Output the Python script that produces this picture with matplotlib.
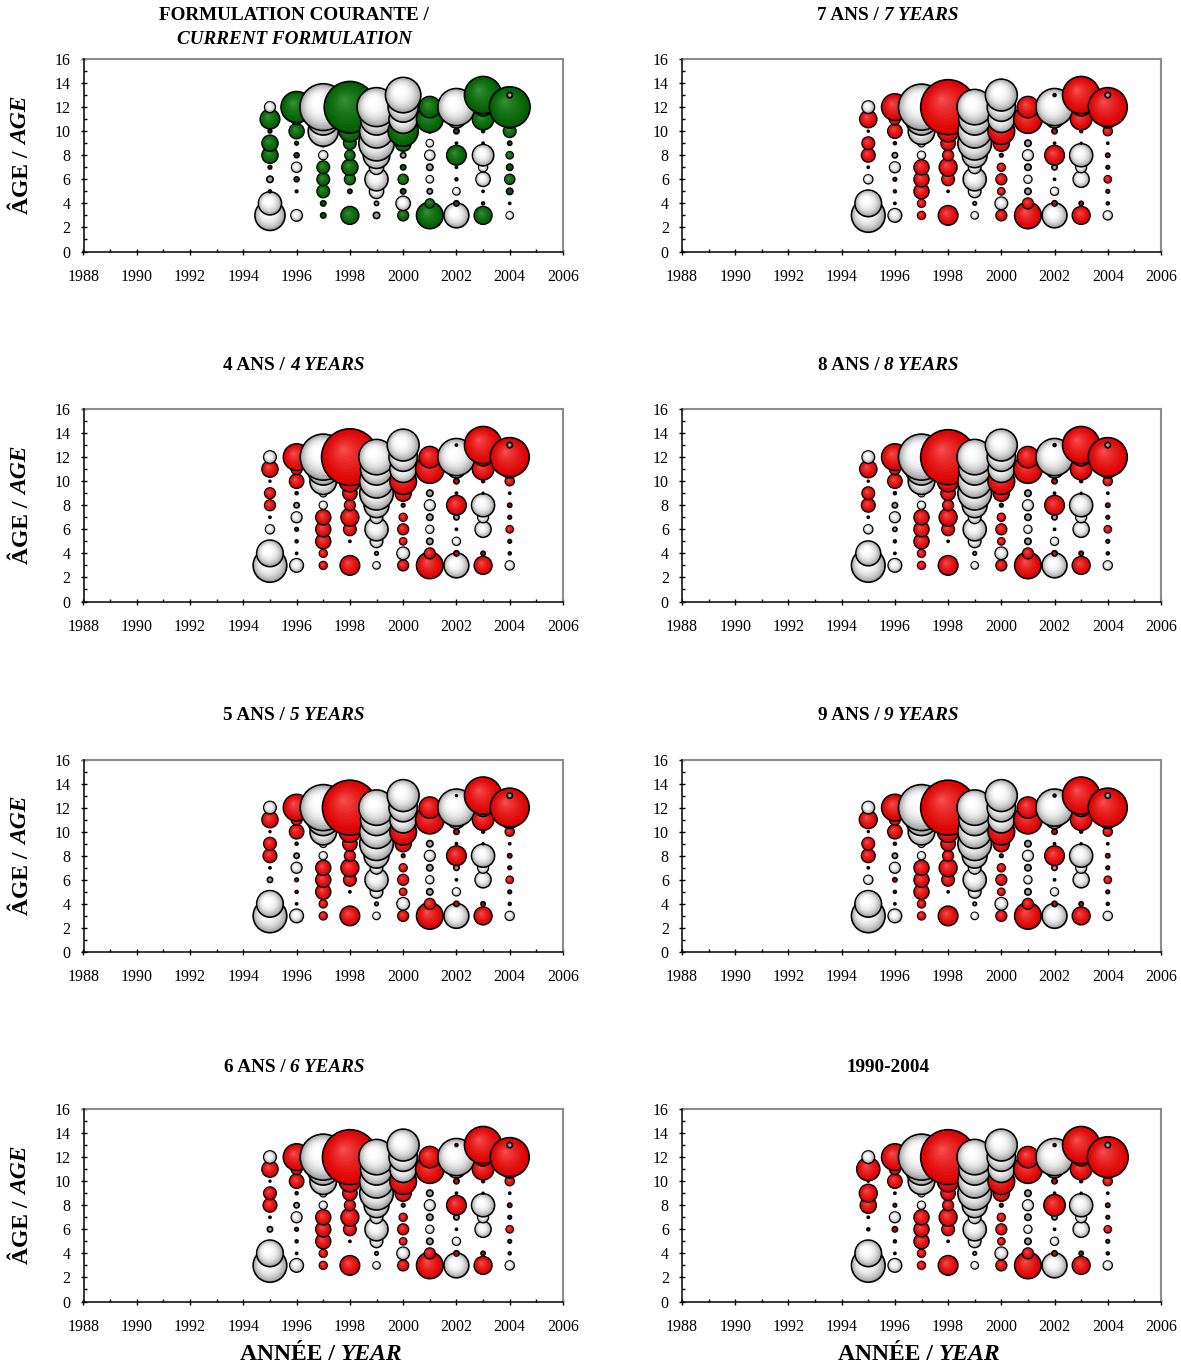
import matplotlib
matplotlib.use("Agg")
import matplotlib.pyplot as plt
import numpy as np
from matplotlib.ticker import MultipleLocator

plt.rcParams['font.family'] = ['Liberation Serif', 'DejaVu Serif']

# ages on y, years on x
ages = [3, 4, 5, 6, 7, 8, 9, 10, 11, 12, 13]
years = [1995, 1996, 1997, 1998, 1999, 2000, 2001, 2002, 2003, 2004]

# residuals, one row per year, columns = ages 3..13 (+ filled, - white)
resid_current = [
    [-0.85, -0.65, 0.08, -0.18, 0.10, 0.45, 0.45, 0.10, 0.55, -0.30, 0.00],
    [-0.32, 0.00, 0.07, 0.14, -0.28, 0.14, 0.10, 0.42, 0.30, 0.88, 0.00],
    [0.15, 0.15, 0.35, 0.35, 0.35, -0.25, -0.20, -0.85, -0.90, -1.32, 0.00],
    [0.50, 0.00, 0.12, 0.30, 0.45, 0.28, 0.35, 0.60, 0.80, 1.45, 0.00],
    [-0.18, -0.12, -0.40, -0.65, -0.40, -0.75, -1.00, -0.95, -0.90, -1.10, 0.00],
    [0.30, -0.40, 0.15, 0.28, 0.15, -0.15, 0.45, 0.85, -0.80, -0.85, -1.00],
    [0.75, 0.25, -0.15, -0.20, -0.18, -0.28, -0.20, 0.10, 0.75, 0.60, 0.00],
    [-0.70, 0.15, -0.20, 0.08, 0.06, 0.55, 0.06, 0.15, -0.50, -1.05, 0.00],
    [0.50, 0.08, 0.06, -0.40, -0.25, -0.60, 0.06, 0.08, 0.60, 0.50, 1.05],
    [-0.20, -0.06, 0.18, 0.28, 0.18, 0.20, 0.12, 0.35, 0.50, 1.15, -0.15],
]

resid_red = [
    [-0.95, -0.75, 0.00, -0.25, 0.06, 0.38, 0.35, 0.05, 0.48, -0.35, 0.00],
    [-0.38, -0.06, 0.08, 0.10, -0.30, -0.15, 0.08, 0.40, 0.30, 0.75, 0.00],
    [0.22, 0.22, 0.42, 0.42, 0.42, -0.22, -0.20, -0.75, -0.90, -1.30, 0.00],
    [0.55, 0.00, -0.06, 0.35, 0.50, 0.30, 0.40, 0.60, 0.80, 1.55, 0.00],
    [-0.20, -0.10, -0.35, -0.65, -0.35, -0.70, -0.95, -0.95, -0.90, -1.00, 0.00],
    [0.30, -0.35, 0.20, 0.30, 0.22, 0.10, 0.45, 0.75, -0.75, -0.80, -0.90],
    [0.75, 0.30, -0.18, -0.22, -0.18, -0.30, -0.18, 0.10, 0.80, 0.60, 0.00],
    [-0.70, 0.15, -0.22, 0.06, -0.15, 0.55, 0.06, 0.15, -0.50, -1.05, 0.08],
    [0.50, 0.12, 0.00, -0.45, -0.30, -0.65, -0.05, 0.08, 0.60, 0.50, 1.05],
    [-0.25, 0.08, 0.10, 0.20, 0.10, 0.12, 0.06, 0.25, 0.50, 1.10, -0.15],
]

# cells that differ from resid_red, (year, age): value
changes_4 = {(1995, 11): 0.45, (1995, 9): 0.30, (1995, 8): 0.30, (1998, 12): 1.60, (2002, 13): 0.06}
changes_5 = {(1995, 11): 0.45, (1995, 6): -0.15, (2002, 13): 0.05}
changes_6 = {(1995, 11): 0.45, (1995, 6): -0.15}
changes_7 = {}
changes_8 = {(1995, 4): -0.70, (1996, 6): -0.12}
changes_9 = {(1995, 11): 0.50, (1996, 6): 0.12}
changes_all = {(1995, 11): 0.65, (1995, 9): 0.50, (1995, 8): 0.45, (1995, 6): 0.08,
               (1996, 8): 0.10, (1996, 6): 0.15, (1996, 9): -0.06,
               (2002, 8): 0.60, (2004, 12): 1.15}

panels = [
    # (title parts, data, overrides, color, column, row)
    ([("FORMULATION COURANTE /", "normal")], resid_current, {}, "green", 0, 0),
    ([("4 ANS / ", "normal"), ("4 YEARS", "italic")], resid_red, changes_4, "red", 0, 1),
    ([("5 ANS / ", "normal"), ("5 YEARS", "italic")], resid_red, changes_5, "red", 0, 2),
    ([("6 ANS / ", "normal"), ("6 YEARS", "italic")], resid_red, changes_6, "red", 0, 3),
    ([("7 ANS / ", "normal"), ("7 YEARS", "italic")], resid_red, changes_7, "red", 1, 0),
    ([("8 ANS / ", "normal"), ("8 YEARS", "italic")], resid_red, changes_8, "red", 1, 1),
    ([("9 ANS / ", "normal"), ("9 YEARS", "italic")], resid_red, changes_9, "red", 1, 2),
    ([("1990-2004", "normal")], resid_red, changes_all, "red", 1, 3),
]

# shading: (edge colour, centre colour, exponent)
shades = {
    "green": ((0.0, 0.37, 0.0), (0.26, 0.60, 0.26), 0.7),
    "red": ((0.86, 0.0, 0.0), (1.0, 0.40, 0.40), 0.6),
    "white": ((0.62, 0.62, 0.62), (1.0, 1.0, 1.0), 3.0),
}

W, H = 1181, 1369
fig = plt.figure(figsize=(W / 100, H / 100), dpi=100)

col_x = [(83.5, 563), (682, 1161)]
row_y = [(59, 251.5), (409, 601.5), (759.5, 952), (1109, 1301.5)]
title_x = [294, 888]
title_y = [15, 366, 716, 1067]

PT_PER_VAL = 25.5  # bubble diameter in points per unit of residual


def mixed_text(x, y, parts, size, rotation=0):
    # x, y in pixels from top-left; parts drawn side by side, centred together
    texts = []
    for s, style in parts:
        t = fig.text(0, 0, s, fontsize=size, fontweight="bold", style=style,
                     rotation=rotation, ha="center", va="center")
        texts.append(t)
    r = fig.canvas.get_renderer()
    lens = []
    for t in texts:
        bb = t.get_window_extent(r)
        lens.append(bb.height if rotation else bb.width)
    start = -sum(lens) / 2
    for t, ln in zip(texts, lens):
        c = start + ln / 2
        if rotation:
            t.set_position((x / W, 1 - y / H + c / H))
        else:
            t.set_position((x / W + c / W, 1 - y / H))
        start += ln


for title, data, changes, colour, col, row in panels:
    x0, x1 = col_x[col]
    top, bot = row_y[row]
    ax = fig.add_axes([x0 / W, 1 - bot / H, (x1 - x0) / W, (bot - top) / H])
    ax.set_xlim(1988, 2006)
    ax.set_ylim(0, 16)

    ptx = (x1 - x0) * 0.72 / 18.0
    pty = (bot - top) * 0.72 / 16.0

    xs, ys, ss, fcs, ecs, lws = [], [], [], [], [], []
    for i, yr in enumerate(years):
        for j, age in enumerate(ages):
            v = changes.get((yr, age), data[i][j])
            if v == 0:
                continue
            d = abs(v) * PT_PER_VAL
            key = colour if v > 0 else "white"
            edge_c, centre_c, ex = shades[key]
            edge_c = np.array(edge_c)
            centre_c = np.array(centre_c)
            # outer disc with black outline
            xs.append(yr)
            ys.append(age)
            ss.append(d ** 2)
            fcs.append(edge_c)
            ecs.append("black")
            lws.append(1.2)
            if d < 5:
                continue
            r = d / 2
            hx, hy = -0.25 * r, 0.30 * r
            for f in np.linspace(0.92, 0.1, 10):
                g = f ** ex
                xs.append(yr + (1 - f) * hx / ptx)
                ys.append(age + (1 - f) * hy / pty)
                ss.append((d * f) ** 2)
                fcs.append(centre_c + (edge_c - centre_c) * g)
                ecs.append("none")
                lws.append(0.0)
    ax.scatter(xs, ys, s=ss, c=fcs, edgecolors=ecs, linewidths=lws, zorder=3,
               clip_on=False)

    for side in ["top", "right"]:
        ax.spines[side].set_color("#8c8c8c")
        ax.spines[side].set_linewidth(1.5)
    for side in ["left", "bottom"]:
        ax.spines[side].set_color("black")
        ax.spines[side].set_linewidth(1.1)
        ax.spines[side].set_zorder(4)

    ax.xaxis.set_major_locator(MultipleLocator(2))
    ax.xaxis.set_minor_locator(MultipleLocator(1))
    ax.yaxis.set_major_locator(MultipleLocator(2))
    ax.yaxis.set_minor_locator(MultipleLocator(1))
    ax.tick_params(which="major", direction="inout", length=5, width=1.0,
                   labelsize=11.5, top=False, right=False)
    ax.tick_params(which="minor", direction="in", length=2.5, width=1.0,
                   top=False, right=False)
    ax.tick_params(axis="x", which="major", pad=10)
    ax.tick_params(axis="y", which="major", pad=7)

    if col == 0 and row == 0:
        mixed_text(title_x[col], title_y[row], title, 13.8)
        mixed_text(title_x[col], 40, [("CURRENT FORMULATION", "italic")], 13.8)
    else:
        mixed_text(title_x[col], title_y[row], title, 13.8)

    if col == 0:
        mixed_text(22, (top + bot) / 2, [("ÂGE / ", "normal"), ("AGE", "italic")],
                   17, rotation=90)
    if row == 3:
        mixed_text((x0 + x1) / 2 - 2, 1355, [("ANNÉE / ", "normal"), ("YEAR", "italic")],
                   17)

fig.savefig("out.png", dpi=100)
